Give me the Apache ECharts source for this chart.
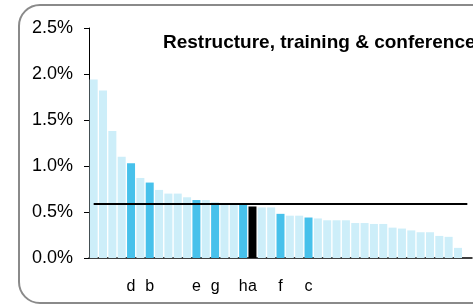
<!DOCTYPE html>
<html lang="en">
    <head>
        <meta charset="utf-8">
        <title>Restructure, training & conference</title>
        <script src="https://cdn.jsdelivr.net/npm/echarts@6/dist/echarts.min.js"></script>
        <style>
            html, body { margin: 0; padding: 0; background: #fff; }
            #chart { width: 473px; height: 305px; }
        </style>
    </head>
    <body>
        <div id="chart"></div>
    </body>
</html>

<script type="text/javascript">
    // one label per category, most are blank
    let categoryLabels = ['', '', '', '', 'd', '', 'b', '', '', '', '', 'e', '', 'g', '', '', 'h', 'a', '', '',
                          'f', '', '', 'c', '', '', '', '', '', '', '', '', '', '', '', '', '', '', '', '', ''];
    // share of costs, in %
    let shareValues = [1.94, 1.82, 1.38, 1.10, 1.03, 0.87, 0.82, 0.74, 0.70, 0.70,
                       0.66, 0.63, 0.63, 0.60, 0.59, 0.59, 0.59, 0.56, 0.55, 0.55,
                       0.48, 0.46, 0.46, 0.44, 0.43, 0.41, 0.41, 0.41, 0.38, 0.38,
                       0.37, 0.37, 0.33, 0.32, 0.30, 0.28, 0.28, 0.24, 0.23, 0.11, null];
    let averageValue = 0.59;
    let yTicks = [0, 0.5, 1.0, 1.5, 2.0, 2.5];
    let chartTitle = 'Restructure, training & conference';

    let categories = categoryLabels.map((l, i) => 'c' + i);

    function barColor(label){
        if(label === '') return '#cdeef9';
        if(label === 'a') return '#000000';
        return '#47c1eb';
    }

    let barData = shareValues.map((v, i) => ({
        value: v,
        itemStyle: { color: barColor(categoryLabels[i]) }
    }));

    let Chart = echarts.init(document.getElementById('chart'));

    let option = {
        animation: false,
        graphic: [
            {
                type: 'rect',
                shape: { x: 19, y: 5, width: 500, height: 298, r: 21 },
                style: { fill: 'none', stroke: '#8a8a8a', lineWidth: 2 },
                z: -1
            },
            {
                type: 'text',
                left: 163,
                top: 33,
                style: {
                    text: chartTitle,
                    font: 'bold 19px "Liberation Sans", Arial, sans-serif',
                    fill: '#000'
                }
            }
        ],
        grid: {
            left: 89,
            right: 1,
            top: 28,
            bottom: 47
        },
        xAxis: {
            type: 'category',
            data: categories,
            axisLine: { lineStyle: { color: '#000', width: 1.5 } },
            axisTick: { show: false },
            axisLabel: {
                interval: 0,
                margin: 21,
                color: '#000',
                fontSize: 16,
                fontFamily: '"Liberation Sans", Arial, sans-serif',
                formatter: (v, i) => categoryLabels[i]
            }
        },
        yAxis: {
            type: 'value',
            min: yTicks[0],
            max: yTicks[yTicks.length - 1],
            interval: 0.5,
            splitLine: { show: false },
            axisLine: { show: true, lineStyle: { color: '#000', width: 1 } },
            axisTick: { show: true, length: 5, lineStyle: { color: '#000' } },
            axisLabel: {
                margin: 16,
                color: '#000',
                fontSize: 18,
                fontFamily: '"Liberation Sans", Arial, sans-serif',
                formatter: (v) => v.toFixed(1) + '%'
            }
        },
        series: [
            {
                name: 'share',
                type: 'bar',
                barWidth: 8,
                data: barData,
                markLine: {
                    silent: true,
                    symbol: 'none',
                    label: { show: false },
                    lineStyle: { color: '#000', width: 2, type: 'solid' },
                    data: [
                        [
                            { coord: [categories[0], averageValue] },
                            { coord: [categories[categories.length - 1], averageValue] }
                        ]
                    ]
                }
            }
        ]
    };

    Chart.setOption(option);
</script>
